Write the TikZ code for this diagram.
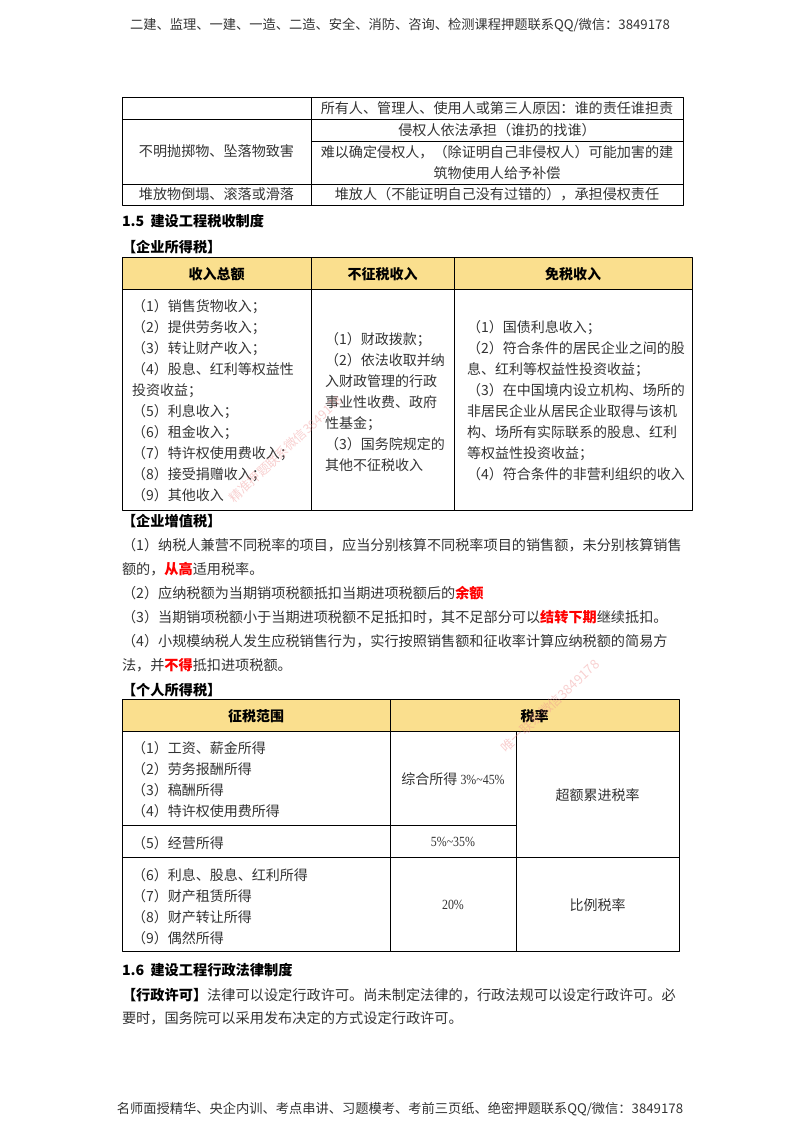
\documentclass[tikz,border=0pt]{standalone}
\usepackage{fontspec}
\setmainfont{Noto Sans CJK SC}
\newfontfamily\narrowdigits[FakeStretch=0.85]{Liberation Serif}
\newcommand{\hotword}[1]{\textcolor{red}{\bfseries #1}}
\newcommand{\ratetext}[1]{{\narrowdigits #1}}
\definecolor{headfill}{HTML}{FADF8E}
\definecolor{inkgray}{gray}{0.2}
\definecolor{markpink}{HTML}{EE8F8F}
\tikzset{
  plain/.style={inner sep=0pt,outer sep=0pt,text=inkgray,font=\fontsize{14bp}{21bp}\selectfont,align=left},
  leftline/.style={plain,anchor=west},
  boldline/.style={leftline,text=black,font=\fontsize{14.2bp}{21bp}\selectfont\bfseries},
  paperline/.style={plain,font=\fontsize{13.25bp}{16bp}\selectfont},
  cell/.style={draw=black,line width=1bp,inner sep=0pt,outer sep=0pt,text=inkgray,align=center,font=\fontsize{14bp}{21bp}\selectfont},
  headcell/.style={cell,fill=headfill,text=black,font=\fontsize{14bp}{21bp}\selectfont\bfseries},
  thincell/.style={cell,line width=0.7bp,font=\fontsize{14.1bp}{21bp}\selectfont},
  watermark/.style={inner sep=0pt,outer sep=0pt,text=markpink,text opacity=0.42,font=\fontsize{12.6bp}{15bp}\selectfont},
}
\begin{document}
\begin{tikzpicture}[>=latex,line join=bevel,]
\useasboundingbox (0bp,0bp) rectangle (800bp,1132bp);
%%
\node (node_top) at (400bp,1107bp) [paperline] {二建、监理、一建、一造、二造、安全、消防、咨询、检测课程押题联系QQ/微信：3849178};
\node (node_foot) at (400bp,23bp) [paperline] {名师面授精华、央企内训、考点串讲、习题模考、考前三页纸、绝密押题联系QQ/微信：3849178};
%% table of liability
\node (duty_a) at (216.5bp,1024bp) [thincell,minimum width=189bp,minimum height=22bp] {};
\node (duty_b) at (497bp,1024bp) [thincell,minimum width=372bp,minimum height=22bp] {所有人、管理人、使用人或第三人原因：谁的责任谁担责};
\node (duty_c) at (216.5bp,980.5bp) [thincell,minimum width=189bp,minimum height=65bp] {不明抛掷物、坠落物致害};
\node (duty_d) at (497bp,1002bp) [thincell,minimum width=372bp,minimum height=22bp] {侵权人依法承担（谁扔的找谁）};
\node (duty_e) at (497bp,969.5bp) [thincell,minimum width=372bp,minimum height=43bp] {难以确定侵权人，（除证明自己非侵权人）可能加害的建\\筑物使用人给予补偿};
\node (duty_f) at (216.5bp,937.5bp) [thincell,minimum width=189bp,minimum height=21bp] {堆放物倒塌、滚落或滑落};
\node (duty_g) at (497bp,937.5bp) [thincell,minimum width=372bp,minimum height=21bp] {堆放人（不能证明自己没有过错的），承担侵权责任};
%%
\node (sec_five) at (122bp,911bp) [boldline] {1.5\hspace{3bp} 建设工程税收制度};
\node (sec_corp) at (122bp,885bp) [boldline] {【企业所得税】};
%% table of enterprise income
\node (inc_head_a) at (216.5bp,858bp) [headcell,minimum width=189bp,minimum height=32bp] {收入总额};
\node (inc_head_b) at (382.5bp,858bp) [headcell,minimum width=143bp,minimum height=32bp] {不征税收入};
\node (inc_head_c) at (573bp,858bp) [headcell,minimum width=238bp,minimum height=32bp] {免税收入};
\node (inc_a) at (216.5bp,731.5bp) [cell,minimum width=189bp,minimum height=221bp] {};
\node (inc_b) at (382.5bp,731.5bp) [cell,minimum width=143bp,minimum height=221bp] {};
\node (inc_c) at (573bp,731.5bp) [cell,minimum width=238bp,minimum height=221bp] {};
\node (inc_a_text) at (132bp,731.5bp) [leftline] {（1）销售货物收入；\\（2）提供劳务收入；\\（3）转让财产收入；\\（4）股息、红利等权益性\\投资收益；\\（5）利息收入；\\（6）租金收入；\\（7）特许权使用费收入；\\（8）接受捐赠收入；\\（9）其他收入};
\node (inc_b_text) at (325bp,730bp) [leftline] {（1）财政拨款；\\（2）依法收取并纳\\入财政管理的行政\\事业性收费、政府\\性基金；\\（3）国务院规定的\\其他不征税收入};
\node (inc_c_text) at (467bp,731bp) [leftline] {（1）国债利息收入；\\（2）符合条件的居民企业之间的股\\息、红利等权益性投资收益；\\（3）在中国境内设立机构、场所的\\非居民企业从居民企业取得与该机\\构、场所有实际联系的股息、红利\\等权益性投资收益；\\（4）符合条件的非营利组织的收入};
%%
\node (sec_vat) at (122bp,611bp) [boldline] {【企业增值税】};
\node (vat_text) at (122bp,527bp) [leftline,font=\fontsize{14.15bp}{24bp}\selectfont] {（1）纳税人兼营不同税率的项目，应当分别核算不同税率项目的销售额，未分别核算销售\\额的，\hotword{从高}适用税率。\\（2）应纳税额为当期销项税额抵扣当期进项税额后的\hotword{余额}\\（3）当期销项税额小于当期进项税额不足抵扣时，其不足部分可以\hotword{结转下期}继续抵扣。\\（4）小规模纳税人发生应税销售行为，实行按照销售额和征收率计算应纳税额的简易方\\法，并\hotword{不得}抵扣进项税额。};
\node (sec_person) at (122bp,442bp) [boldline] {【个人所得税】};
%% table of personal income
\node (pit_head_a) at (256bp,416bp) [headcell,minimum width=268bp,minimum height=32bp] {征税范围};
\node (pit_head_b) at (534.5bp,416bp) [headcell,minimum width=289bp,minimum height=32bp] {税率};
\node (pit_a1) at (256bp,353bp) [cell,minimum width=268bp,minimum height=94bp] {};
\node (pit_b1) at (256bp,290bp) [cell,minimum width=268bp,minimum height=32bp] {};
\node (pit_c1) at (256bp,227bp) [cell,minimum width=268bp,minimum height=94bp] {};
\node (pit_a2) at (453bp,353bp) [cell,minimum width=126bp,minimum height=94bp] {综合所得 \ratetext{3\%\string~45\%}};
\node (pit_b2) at (453bp,290bp) [cell,minimum width=126bp,minimum height=32bp] {\ratetext{5\%\string~35\%}};
\node (pit_c2) at (453bp,227bp) [cell,minimum width=126bp,minimum height=94bp] {\ratetext{20\%}};
\node (pit_a3) at (597.5bp,337bp) [cell,minimum width=163bp,minimum height=126bp] {超额累进税率};
\node (pit_c3) at (597.5bp,227bp) [cell,minimum width=163bp,minimum height=94bp] {比例税率};
\node (pit_a_text) at (132bp,352bp) [leftline] {（1）工资、薪金所得\\（2）劳务报酬所得\\（3）稿酬所得\\（4）特许权使用费所得};
\node (pit_b_text) at (132bp,289bp) [leftline] {（5）经营所得};
\node (pit_c_text) at (132bp,225bp) [leftline] {（6）利息、股息、红利所得\\（7）财产租赁所得\\（8）财产转让所得\\（9）偶然所得};
%%
\node (sec_six) at (122bp,162bp) [boldline] {1.6\hspace{3bp} 建设工程行政法律制度};
\node (law_text) at (122bp,125bp) [leftline,font=\fontsize{14.2bp}{23bp}\selectfont] {\textbf{\textcolor{black}{【行政许可】}}法律可以设定行政许可。尚未制定法律的，行政法规可以设定行政许可。必\\要时，国务院可以采用发布决定的方式设定行政许可。};
%% stamps over the page
\node (mark_one) at (286bp,683bp) [watermark,rotate=43] {精准押题联系微信3849178};
\node (mark_two) at (550bp,426bp) [watermark,rotate=43,font=\fontsize{13bp}{15bp}\selectfont] {唯一联系微信3849178};
%
\end{tikzpicture}
\end{document}
